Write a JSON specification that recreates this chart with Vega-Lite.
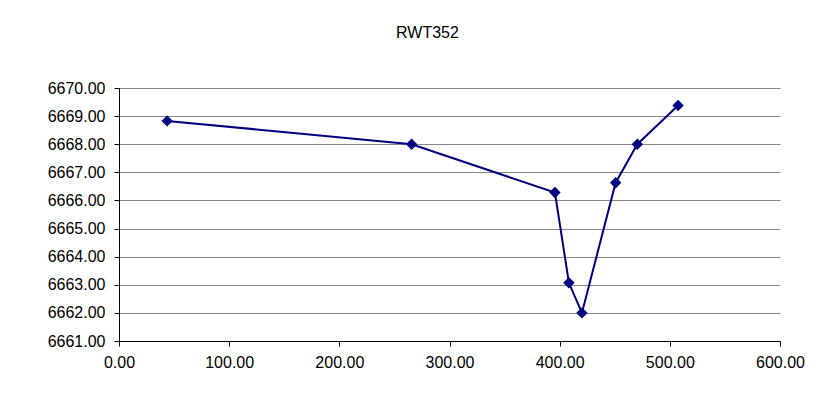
{
  "$schema": "https://vega.github.io/schema/vega-lite/v6.json",
  "width": 661,
  "height": 253,
  "autosize": {"type": "none"},
  "padding": {"left": 119, "top": 88, "right": 41, "bottom": 57},
  "background": "white",
  "title": {
    "text": "RWT352",
    "font": "Liberation Sans",
    "fontSize": 16,
    "fontWeight": "normal",
    "color": "#000000",
    "anchor": "middle",
    "dx": -22,
    "baseline": "alphabetic",
    "offset": 26
  },
  "config": {"view": {"stroke": null}},
  "data": {
    "values": [
      {"dist": 43.7, "elev": 6668.83},
      {"dist": 265.6, "elev": 6668.0},
      {"dist": 395.7, "elev": 6666.28},
      {"dist": 408.4, "elev": 6663.07},
      {"dist": 420.2, "elev": 6662.0},
      {"dist": 450.8, "elev": 6666.63},
      {"dist": 470.5, "elev": 6668.0},
      {"dist": 507.5, "elev": 6669.38}
    ]
  },
  "mark": {
    "type": "line",
    "color": "#000080",
    "strokeWidth": 2,
    "point": {"shape": "diamond", "filled": true, "size": 130, "color": "#000080", "opacity": 1}
  },
  "encoding": {
    "x": {
      "field": "dist",
      "type": "quantitative",
      "scale": {"domain": [0, 600], "nice": false, "zero": false},
      "axis": {
        "title": null,
        "values": [0, 100, 200, 300, 400, 500, 600],
        "format": ".2f",
        "grid": false,
        "domainColor": "#000000",
        "tickColor": "#000000",
        "tickSize": 5,
        "labelPadding": 8,
        "labelFont": "Liberation Sans",
        "labelFontSize": 16,
        "labelColor": "#000000",
        "labelFlush": false,
        "labelOverlap": false
      }
    },
    "y": {
      "field": "elev",
      "type": "quantitative",
      "scale": {"domain": [6661, 6670], "nice": false, "zero": false},
      "axis": {
        "title": null,
        "values": [6661, 6662, 6663, 6664, 6665, 6666, 6667, 6668, 6669, 6670],
        "format": ".2f",
        "grid": true,
        "gridColor": "#888888",
        "gridOpacity": 1,
        "domainColor": "#000000",
        "tickColor": "#000000",
        "tickSize": 5,
        "labelPadding": 9,
        "labelFont": "Liberation Sans",
        "labelFontSize": 16,
        "labelColor": "#000000",
        "labelFlush": false,
        "labelOverlap": false
      }
    },
    "order": {"field": "dist", "type": "quantitative"}
  }
}
